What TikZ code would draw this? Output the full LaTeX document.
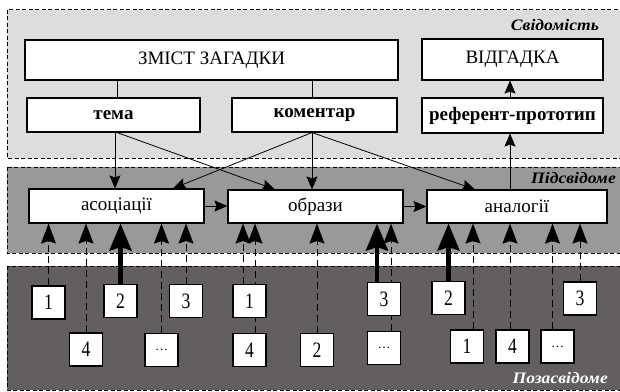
\documentclass[tikz,border=0pt]{standalone}
\usepackage{fontspec}
\setmainfont{Liberation Serif}
\newfontfamily\nrw[FakeStretch=0.8]{Liberation Serif}
\newfontfamily\lblfont[FakeStretch=1.1]{Liberation Serif}
\usetikzlibrary{arrows.meta}
\pgfdeclarelayer{back}
\pgfdeclarelayer{conn}
\pgfsetlayers{back,conn,main}
\definecolor{topfill}{RGB}{221,221,221}
\definecolor{midfill}{RGB}{153,153,153}
\definecolor{botfill}{RGB}{99,95,95}
\begin{document}
\begin{tikzpicture}[x=1pt,y=-1pt,
  box/.style={draw=black, fill=white, line width=1.1pt, inner sep=0pt, font=\fontsize{19}{22}\selectfont},
  bbox/.style={box, font=\fontsize{19}{22}\selectfont\bfseries},
  numbox/.style={box, minimum width=33pt, minimum height=33pt, font=\fontsize{22}{24}\selectfont\nrw},
  dotbox/.style={numbox, font=\fontsize{13}{14}\selectfont},
  zone/.style={draw=black, line width=0.9pt, dash pattern=on 4pt off 2.5pt},
  lbl/.style={inner sep=0pt, anchor=east, font=\fontsize{16}{18}\selectfont\lblfont\bfseries\itshape},
  ln/.style={line width=0.8pt},
  sarrow/.style={ln, -{Stealth[length=13pt,width=11pt,inset=2pt]}},
  uparrow/.style={line width=0.9pt, dash pattern=on 7pt off 4pt, -{Stealth[length=20pt,width=15pt,inset=2.5pt]}},
  thickarrow/.style={line width=4.5pt, -{Stealth[length=27pt,width=22pt,inset=3.5pt]}}
]
\useasboundingbox (0,0) rectangle (620,391);
\begin{pgfonlayer}{back}
  \fill[white] (0,0) rectangle (620,391);
  \draw[zone, fill=topfill] (7,9.5) rectangle (622,158);
  \draw[zone, fill=midfill] (7,167) rectangle (622,253);
  \draw[zone, fill=botfill] (7,266) rectangle (622,390);
\end{pgfonlayer}

% top layer
\node[box, minimum width=373pt, minimum height=40pt] (zmist) at (211.5,60) {ЗМІСТ ЗАГАДКИ};
\node[box, minimum width=181pt, minimum height=41pt] (vidg) at (512.5,59.5) {ВІДГАДКА};
\node[bbox, minimum width=173pt, minimum height=34pt] (tema) at (113.5,115) {тема};
\node[bbox, minimum width=165pt, minimum height=34pt] (koment) at (314.5,115) {коментар};
\node[bbox, minimum width=181pt, minimum height=35pt] (ref) at (512.5,115.5) {референт-прототип};

% middle layer
\node[box, minimum width=175pt, minimum height=34pt] (asoc) at (116.5,206) {асоціації};
\node[box, minimum width=175pt, minimum height=33pt] (obr) at (315.5,206.5) {образи};
\node[box, minimum width=180pt, minimum height=33pt] (anal) at (517,206.5) {аналогії};

% bottom layer
\node[numbox] (a1) at (48.5,302.5) {1};
\node[numbox] (a2) at (120.5,301) {2};
\node[numbox] (a3) at (186,301) {3};
\node[numbox] (a4) at (86,349.5) {4};
\node[dotbox] (a5) at (161.5,350) {…};

\node[numbox] (b1) at (249.5,301) {1};
\node[numbox] (b4) at (249.5,350) {4};
\node[numbox] (b2) at (317,350) {2};
\node[numbox] (b3) at (384,299) {3};
\node[dotbox] (b5) at (384,348) {…};

\node[numbox] (c2) at (448.5,298) {2};
\node[numbox] (c3) at (580,298.5) {3};
\node[numbox] (c1) at (467,346.5) {1};
\node[numbox] (c4) at (512.5,346.5) {4};
\node[dotbox] (c5) at (557.5,346.5) {…};

% labels
\node[lbl] (lsv) at (599,25) {Свідомість};
\node[lbl] (lpid) at (616,178) {Підсвідоме};
\node[lbl, text=white] (lpoz) at (608,378) {Позасвідоме};

% helper coordinates
\coordinate (zt) at ([xshift=3.5pt]tema.north);
\coordinate (zk) at ([xshift=-2.5pt]koment.north);
\coordinate (rv) at ([xshift=-2.5pt]ref.north);
\coordinate (ts) at ([xshift=1.5pt]tema.south);
\coordinate (ts2) at ([xshift=3.5pt]tema.south);
\coordinate (ks) at ([xshift=-2.5pt]koment.south);
\coordinate (an) at ([xshift=-7pt]anal.north);
\coordinate (b1s) at ([xshift=-6.5pt]b1.north);
\coordinate (b4s) at ([xshift=5.5pt]b4.north);
\coordinate (b3s) at ([xshift=-7pt]b3.north);
\coordinate (b5s) at ([xshift=7pt]b5.north);
\coordinate (c1s) at ([xshift=6pt]c1.north);
\coordinate (c4s) at ([xshift=-2.5pt]c4.north);
\coordinate (c5s) at ([xshift=-5pt]c5.north);

\begin{pgfonlayer}{conn}
  \draw[ln] (zt |- zmist.south) -- (zt);
  \draw[ln] (zk |- zmist.south) -- (zk);
  \draw[sarrow] (rv) -- (rv |- vidg.south);
  \draw[sarrow] (ts) -- (ts |- asoc.north);
  \draw[sarrow] (ts2) -- ([xshift=-40.5pt]obr.north);
  \draw[sarrow] (ks) -- ([xshift=56.5pt]asoc.north);
  \draw[sarrow] (ks) -- (ks |- obr.north);
  \draw[sarrow] (ks) -- ([xshift=-42pt]anal.north);
  \draw[sarrow] (an) -- (an |- ref.south);
  \draw[sarrow] (asoc.east) -- (asoc.east -| obr.west);
  \draw[sarrow] (obr.east) -- (obr.east -| anal.west);

  \draw[uparrow] (a1.north) -- (a1.north |- asoc.south);
  \draw[thickarrow] (a2.north) -- (a2.north |- asoc.south);
  \draw[uparrow] (a3.north) -- (a3.north |- asoc.south);
  \draw[uparrow] (a4.north) -- (a4.north |- asoc.south);
  \draw[uparrow] (a5.north) -- (a5.north |- asoc.south);

  \draw[uparrow] (b1s) -- (b1s |- obr.south);
  \draw[uparrow] (b4s) -- (b4s |- obr.south);
  \draw[uparrow] (b2.north) -- (b2.north |- obr.south);
  \draw[thickarrow] (b3s) -- (b3s |- obr.south);
  \draw[uparrow] (b5s) -- (b5s |- obr.south);

  \draw[thickarrow] (c2.north) -- (c2.north |- anal.south);
  \draw[uparrow] (c3.north) -- (c3.north |- anal.south);
  \draw[uparrow] (c1s) -- (c1s |- anal.south);
  \draw[uparrow] (c4s) -- (c4s |- anal.south);
  \draw[uparrow] (c5s) -- (c5s |- anal.south);
\end{pgfonlayer}
\end{tikzpicture}
\end{document}
